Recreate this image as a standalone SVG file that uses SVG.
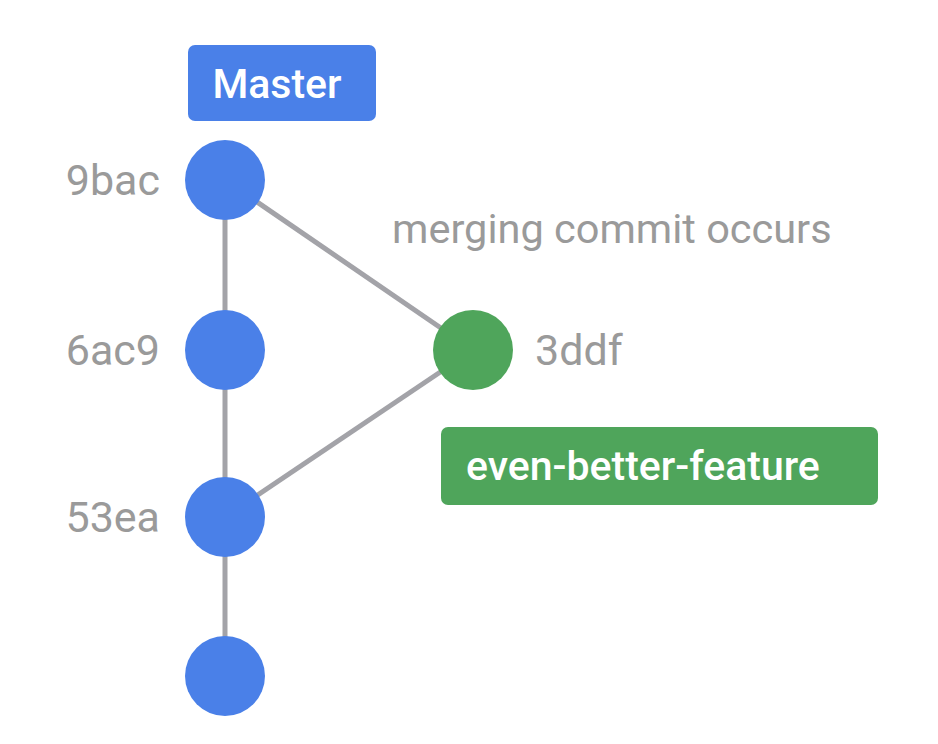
<svg xmlns="http://www.w3.org/2000/svg" width="938" height="744" viewBox="0 0 938 744">
<style>
.lbl{font-family:Roboto,"Liberation Sans",sans-serif;font-size:43px;fill:#9a9a9a}
.note{font-family:Roboto,"Liberation Sans",sans-serif;font-size:41.5px;fill:#9a9a9a}
.tag{font-family:Roboto,"Liberation Sans",sans-serif;font-size:41px;fill:#ffffff;font-weight:500}
.blue{fill:#4a80e8}
.green{fill:#4fa55b}
.edge{stroke:#a3a3a8;stroke-width:5;fill:none}
</style>
<rect width="938" height="744" fill="#ffffff"/>
<g id="connectors">
<line class="edge" x1="225" y1="180" x2="225" y2="676"/>
<line class="edge" x1="225" y1="180" x2="473" y2="350"/>
<line class="edge" x1="225" y1="517" x2="473" y2="350"/>
</g>
<g id="master-tag">
<rect class="blue" x="188" y="45" width="188" height="76" rx="7"/>
<text class="tag" x="277" y="98" text-anchor="middle">Master</text>
</g>
<g id="c9bac">
<circle class="blue" cx="225" cy="180" r="40"/>
<text class="lbl" x="160" y="195" text-anchor="end">9bac</text>
</g>
<g id="c6ac9">
<circle class="blue" cx="225" cy="350" r="40"/>
<text class="lbl" x="160" y="365" text-anchor="end">6ac9</text>
</g>
<g id="c53ea">
<circle class="blue" cx="225" cy="517" r="40"/>
<text class="lbl" x="160" y="532" text-anchor="end">53ea</text>
</g>
<g id="cbottom">
<circle class="blue" cx="225" cy="676" r="40"/>
</g>
<g id="c3ddf">
<circle class="green" cx="473" cy="350" r="40"/>
<text class="lbl" x="535" y="365">3ddf</text>
</g>
<g id="merge-note">
<text class="note" x="392" y="243">merging commit occurs</text>
</g>
<g id="feature-tag">
<rect class="green" x="441" y="427" width="437" height="78" rx="7"/>
<text class="tag" x="466" y="480">even-better-feature</text>
</g>
</svg>
